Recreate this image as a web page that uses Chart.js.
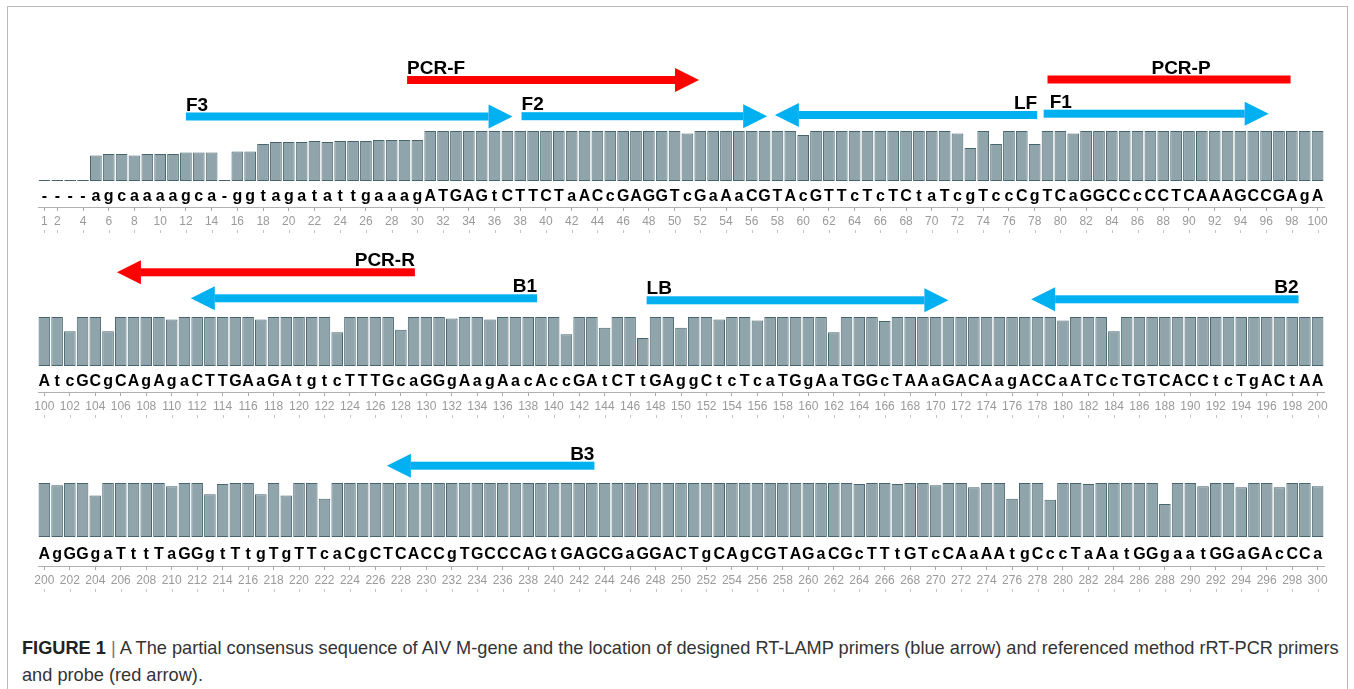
<!DOCTYPE html>
<html>
<head>
<meta charset="utf-8">
<script src="https://cdn.jsdelivr.net/npm/chart.js"></script>
<style>
  body { margin: 0; background: #fff; width: 1354px; height: 689px; overflow: hidden; position: relative; font-family: "Liberation Sans", Arial, sans-serif; }
  #frame { position: absolute; left: 7px; top: 6px; width: 1339px; height: 720px; border: 1px solid #b9b9b9; }
  .row { position: absolute; left: 0; width: 1354px; }
  .row canvas { display: block; }
  #caption { position: absolute; left: 22px; top: 635px; font-size: 18.2px; line-height: 27px; color: #333; white-space: nowrap; }
  #caption b { color: #222; }
  #caption .sep { color: #777; }
</style>
</head>
<body>
<div id="frame"></div>
<div class="row" id="row1"><canvas id="c1"></canvas></div>
<div class="row" id="row2"><canvas id="c2"></canvas></div>
<div class="row" id="row3"><canvas id="c3"></canvas></div>
<div id="caption"><b>FIGURE 1</b> <span class="sep">|</span> A The partial consensus sequence of AIV M-gene and the location of designed RT-LAMP primers (blue arrow) and referenced method rRT-PCR primers<br>and probe (red arrow).</div>

<script>
// consensus sequence, one string per row
const seqRow1 = "----agcaaaagca-ggtagatattgaaagATGAGtCTTCTaACcGAGGTcGaAaCGTAcGTTcTcTCtaTcgTccCgTCaGGCCcCCTCAAAGCCGAgA";
const seqRow2 = "AtcGCgCAgAgaCTTGAaGAtgtcTTTGcaGGgAagAacAccGAtCTtGAggCtcTcaTGgAaTGGcTAAaGACAagACCaATCcTGTCACCtcTgACtAA";
const seqRow3 = "AgGGgaTttTaGGgtTtgTgTTcaCgCTCACCgTGCCCAGtGAGCGaGGACTgCAgCGTAGaCGcTTtGTcCAaAAtgCccTaAatGGgaatGGaGAcCCa";

// first position number of each row
const rowStart = [1, 100, 200];

// conservation (bar height, % of full) per position
const consRow1 = [
  2, 2, 2, 2, 51, 54, 54, 51, 54, 54, 54, 57, 57, 57, 2, 59, 59, 74, 78, 78,
  78, 80, 78, 80, 80, 80, 82, 82, 82, 82, 100, 100, 100, 100, 100, 100, 100, 100, 100, 100,
  100, 100, 100, 100, 100, 100, 100, 100, 100, 100, 95, 100, 100, 100, 100, 100, 100, 100, 100, 92,
  100, 100, 100, 100, 100, 100, 100, 100, 100, 100, 100, 95, 66, 100, 74, 100, 100, 74, 100, 100,
  95, 100, 100, 100, 100, 100, 100, 100, 100, 100, 100, 100, 100, 100, 100, 100, 100, 100, 100, 100
];
const consRow2 = [
  100, 100, 71, 100, 100, 71, 100, 100, 100, 100, 95, 100, 100, 100, 100, 100, 100, 95, 100, 100,
  100, 100, 100, 69, 100, 100, 100, 100, 74, 100, 100, 100, 97, 100, 100, 95, 100, 100, 100, 100,
  100, 65, 100, 100, 78, 100, 100, 57, 100, 100, 78, 100, 100, 95, 100, 100, 93, 100, 100, 100,
  100, 100, 69, 100, 100, 100, 92, 100, 100, 100, 100, 100, 100, 100, 100, 100, 100, 100, 100, 100,
  93, 100, 100, 100, 71, 100, 100, 100, 100, 100, 100, 100, 100, 100, 100, 100, 100, 100, 100, 100, 100
];
const consRow3 = [
  100, 96, 100, 100, 77, 100, 100, 100, 100, 100, 94, 100, 100, 79, 98, 100, 100, 79, 100, 77,
  100, 100, 71, 100, 100, 100, 100, 100, 100, 100, 100, 100, 100, 100, 100, 100, 100, 100, 100, 100,
  100, 100, 100, 100, 100, 100, 100, 100, 100, 100, 100, 100, 100, 100, 100, 100, 100, 100, 100, 100,
  100, 100, 100, 100, 98, 100, 100, 98, 100, 100, 96, 100, 100, 92, 100, 100, 71, 100, 100, 69,
  100, 100, 98, 100, 100, 100, 100, 100, 61, 100, 100, 94, 100, 100, 92, 100, 100, 92, 100, 100, 94
];

// primer locations (sequence positions, from tail to tip)
const primersRow1 = [
  { name: "PCR-F", from: 29.2, to: 51.9 },
  { name: "F3", from: 12.0, to: 37.4 },
  { name: "F2", from: 38.1, to: 57.2 },
  { name: "LF", from: 78.2, to: 57.8 },
  { name: "F1", from: 78.7, to: 96.2 },
  { name: "PCR-P", from: 79.0, to: 97.9 }
];
const primersRow2 = [
  { name: "PCR-R", from: 129.1, to: 105.7 },
  { name: "B1", from: 138.7, to: 111.5 },
  { name: "LB", from: 147.3, to: 171.0 },
  { name: "B2", from: 198.5, to: 177.5 }
];
const primersRow3 = [
  { name: "B3", from: 243.2, to: 226.9 }
];

// drawing styles
const barFill = 'rgb(143,164,171)';
const barEdge = 'rgb(72,101,111)';
const blue = '#00b0f0';
const red = '#ff0000';
const arrowLane = { "PCR-F": 51, "PCR-P": 51.5, "F3": 14.5, "F2": 14.8, "LF": 16, "F1": 17.3,
                    "PCR-R": 44.7, "B1": 18.7, "LB": 16.7, "B2": 17.7, "B3": 17.3 };
const shaft = 8, headLen = 24, headHalf = 12;

const rowLayout = [
  { top: 40, chartTop: 131, chartBottom: 181, letterPad: 6, letterLine: 20 },
  { top: 236, chartTop: 317, chartBottom: 366, letterPad: 6, letterLine: 20 },
  { top: 430, chartTop: 483, chartBottom: 537, letterPad: 6, letterLine: 23 }
];
const numAxisH = 22;
const padBottom = 6;

function showPos(p) {
  return p === 1 || p % 2 === 0;
}

function primerLayer(primers, firstPos) {
  return {
    id: 'primerLayer',
    afterDraw(chart) {
      const ctx = chart.ctx;
      const xs = chart.scales.x;
      const x0 = xs.getPixelForValue(0);
      const step = xs.getPixelForValue(1) - x0;
      const px = p => x0 + (p - firstPos) * step;
      const top = chart.chartArea.top;
      const x2 = chart.scales.x2;
      ctx.save();

      // little marks under the position numbers
      ctx.strokeStyle = '#c4c4c4';
      ctx.lineWidth = 1;
      chart.data.labels.forEach((lab, i) => {
        if (!showPos(Number(lab))) return;
        const xx = Math.round(xs.getPixelForValue(i)) + 0.5;
        ctx.beginPath();
        ctx.moveTo(xx, x2.bottom + 1);
        ctx.lineTo(xx, x2.bottom + 4);
        ctx.stroke();
      });

      primers.forEach(pr => {
        const isPcr = pr.name.startsWith('PCR');
        const hasHead = pr.name !== 'PCR-P';
        const y = top - arrowLane[pr.name];
        const a = px(pr.from), b = px(pr.to);
        const dir = b > a ? 1 : -1;
        const shaftEnd = hasHead ? b - dir * headLen : b;
        ctx.fillStyle = isPcr ? red : blue;
        ctx.fillRect(Math.min(a, shaftEnd), y - shaft / 2, Math.abs(shaftEnd - a), shaft);
        if (hasHead) {
          ctx.beginPath();
          ctx.moveTo(b, y);
          ctx.lineTo(shaftEnd, y - headHalf);
          ctx.lineTo(shaftEnd, y + headHalf);
          ctx.closePath();
          ctx.fill();
        }
        // name above the tail
        ctx.fillStyle = '#000';
        ctx.font = 'bold 19px "Liberation Sans", Arial, sans-serif';
        ctx.textBaseline = 'alphabetic';
        let lx = a;
        if (!hasHead) {
          ctx.textAlign = 'center';
          lx = (a + b) / 2 + 12;
        } else if (dir > 0) {
          ctx.textAlign = 'left';
          if (pr.name === 'F1') lx = a + 6;
        } else {
          ctx.textAlign = 'right';
        }
        ctx.fillText(pr.name, lx, y - shaft / 2 - 2);
      });
      ctx.restore();
    }
  };
}

function drawRow(n, seq, values, firstPos, primers) {
  const lay = rowLayout[n];
  const letters = seq.split('');
  const positions = letters.map((_, i) => String(firstPos + i));
  const letterAxisH = lay.letterPad + lay.letterLine;
  const box = document.getElementById('row' + (n + 1));
  const height = lay.chartBottom - lay.top + letterAxisH + numAxisH + padBottom;
  box.style.top = lay.top + 'px';
  box.style.height = height + 'px';

  new Chart(document.getElementById('c' + (n + 1)), {
    type: 'bar',
    data: {
      labels: positions,
      datasets: [{
        data: values,
        backgroundColor: barFill,
        borderColor: barEdge,
        borderWidth: 1,
        borderSkipped: false,
        barPercentage: 0.91,
        categoryPercentage: 1.0
      }]
    },
    options: {
      responsive: true,
      maintainAspectRatio: false,
      animation: false,
      layout: { padding: { top: lay.chartTop - lay.top, left: 38, right: 30, bottom: padBottom } },
      plugins: { legend: { display: false }, tooltip: { enabled: false } },
      scales: {
        y: { display: false, min: 0, max: 100 },
        x: {
          weight: 0,
          grid: { display: false, drawTicks: false },
          border: { display: false },
          afterFit: s => { s.height = letterAxisH; },
          ticks: {
            autoSkip: false,
            maxRotation: 0,
            padding: lay.letterPad,
            color: '#000',
            font: { family: '"Liberation Sans Narrow", "Liberation Sans", sans-serif', size: 16, weight: 'bold', lineHeight: lay.letterLine / 16 },
            callback: (v, i) => letters[i]
          }
        },
        x2: {
          type: 'category',
          position: 'bottom',
          weight: 1,
          offset: true,
          afterFit: s => { s.height = numAxisH; },
          grid: {
            offset: false,
            drawOnChartArea: false,
            tickLength: 4,
            color: c => showPos(Number(positions[c.index])) ? '#a8a8a8' : 'rgba(0,0,0,0)',
            tickColor: c => showPos(Number(positions[c.index])) ? '#a8a8a8' : 'rgba(0,0,0,0)'
          },
          border: { color: '#b0b0b0' },
          ticks: {
            autoSkip: false,
            maxRotation: 0,
            padding: 3,
            color: '#9a9a9a',
            font: { family: '"Liberation Sans Narrow", "Liberation Sans", sans-serif', size: 12 },
            callback: (v, i) => showPos(Number(positions[i])) ? positions[i] : ''
          }
        }
      }
    },
    plugins: [primerLayer(primers, firstPos)]
  });
}

drawRow(0, seqRow1, consRow1, rowStart[0], primersRow1);
drawRow(1, seqRow2, consRow2, rowStart[1], primersRow2);
drawRow(2, seqRow3, consRow3, rowStart[2], primersRow3);
</script>
</body>
</html>
